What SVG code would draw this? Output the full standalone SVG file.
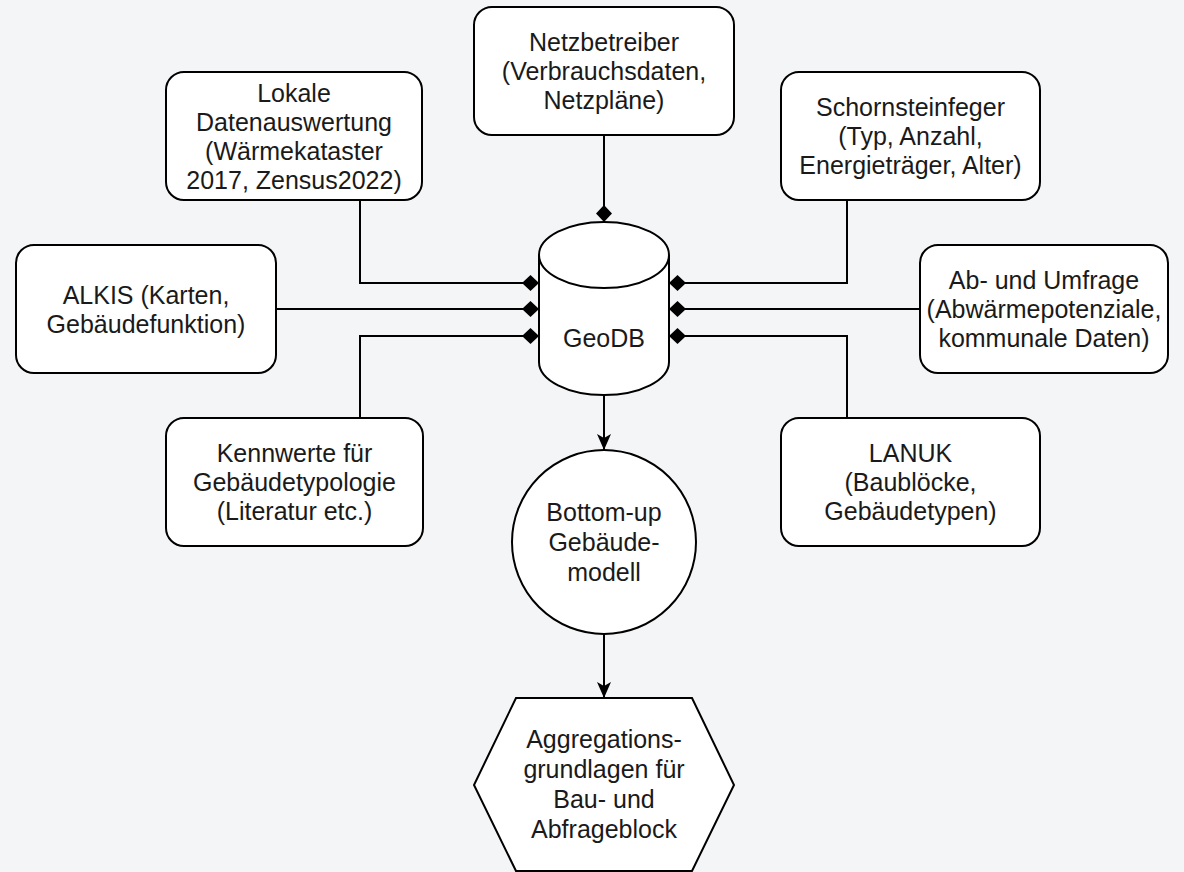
<svg xmlns="http://www.w3.org/2000/svg" width="1184" height="872" viewBox="0 0 1184 872">
<style>
.bg{fill:#f4f5f7}
.box{fill:#ffffff;stroke:#000000;stroke-width:2}
.edge{fill:none;stroke:#000000;stroke-width:2}
.t{font-family:"Liberation Sans",Arial,sans-serif;font-size:25px;fill:#1a1a1a;text-anchor:middle}
</style>
<defs>
<marker id="dia" viewBox="0 0 17 16" refX="17" refY="8" markerWidth="17" markerHeight="16" markerUnits="userSpaceOnUse" orient="auto">
<path d="M0,8 L8.5,0 L17,8 L8.5,16 Z" fill="#000"/>
</marker>
<marker id="arr" viewBox="0 0 16 14" refX="16" refY="7" markerWidth="16" markerHeight="14" markerUnits="userSpaceOnUse" orient="auto">
<path d="M0,0 L16,7 L0,14 L4,7 Z" fill="#000"/>
</marker>
</defs>
<rect class="bg" x="0" y="0" width="1184" height="872"/>
<g id="connectors">
<path class="edge" d="M604,135 L604,222" marker-end="url(#dia)"/>
<path class="edge" d="M360,200 L360,283 L539,283" marker-end="url(#dia)"/>
<path class="edge" d="M276,309 L539,309" marker-end="url(#dia)"/>
<path class="edge" d="M360,418 L360,336 L539,336" marker-end="url(#dia)"/>
<path class="edge" d="M847,200 L847,283 L669,283" marker-end="url(#dia)"/>
<path class="edge" d="M920,309 L669,309" marker-end="url(#dia)"/>
<path class="edge" d="M847,418 L847,336 L669,336" marker-end="url(#dia)"/>
<path class="edge" d="M604,395 L604,450" marker-end="url(#arr)"/>
<path class="edge" d="M604,634 L604,698" marker-end="url(#arr)"/>
</g>
<g id="netzbetreiber">
<rect class="box" x="474" y="7" width="260" height="128" rx="18"/>
<text class="t" x="604" y="51">Netzbetreiber</text>
<text class="t" x="604" y="80">(Verbrauchsdaten,</text>
<text class="t" x="604" y="109">Netzpläne)</text>
</g>
<g id="lokale">
<rect class="box" x="166" y="72" width="256" height="128" rx="18"/>
<text class="t" x="294" y="101.5">Lokale</text>
<text class="t" x="294" y="130.5">Datenauswertung</text>
<text class="t" x="294" y="159.5">(Wärmekataster</text>
<text class="t" x="294" y="188.5">2017, Zensus2022)</text>
</g>
<g id="schornsteinfeger">
<rect class="box" x="781" y="72" width="259" height="128" rx="18"/>
<text class="t" x="910.5" y="116">Schornsteinfeger</text>
<text class="t" x="910.5" y="145">(Typ, Anzahl,</text>
<text class="t" x="910.5" y="174">Energieträger, Alter)</text>
</g>
<g id="alkis">
<rect class="box" x="16" y="245" width="260" height="128" rx="18"/>
<text class="t" x="146" y="303.5">ALKIS (Karten,</text>
<text class="t" x="146" y="332.5">Gebäudefunktion)</text>
</g>
<g id="umfrage">
<rect class="box" x="920" y="245" width="248" height="128" rx="18"/>
<text class="t" x="1044" y="289">Ab- und Umfrage</text>
<text class="t" x="1044" y="318">(Abwärmepotenziale,</text>
<text class="t" x="1044" y="347">kommunale Daten)</text>
</g>
<g id="kennwerte">
<rect class="box" x="166" y="418" width="257" height="128" rx="18"/>
<text class="t" x="294.5" y="462">Kennwerte für</text>
<text class="t" x="294.5" y="491">Gebäudetypologie</text>
<text class="t" x="294.5" y="520">(Literatur etc.)</text>
</g>
<g id="lanuk">
<rect class="box" x="781" y="418" width="259" height="128" rx="18"/>
<text class="t" x="910.5" y="462">LANUK</text>
<text class="t" x="910.5" y="491">(Baublöcke,</text>
<text class="t" x="910.5" y="520">Gebäudetypen)</text>
</g>
<g id="geodb">
<path class="box" d="M539,255 A65,33 0 0,1 669,255 L669,362 A65,33 0 0,1 539,362 Z"/>
<path class="edge" d="M539,255 A65,33 0 0,0 669,255"/>
<text class="t" x="604" y="347">GeoDB</text>
</g>
<g id="gebaeudemodell">
<circle class="box" cx="604" cy="542" r="92"/>
<text class="t" x="604" y="521">Bottom-up</text>
<text class="t" x="604" y="551">Gebäude-</text>
<text class="t" x="604" y="581">modell</text>
</g>
<g id="aggregation">
<polygon class="box" points="516,698 692,698 734,785 692,871 516,871 474,785"/>
<text class="t" x="604" y="748">Aggregations-</text>
<text class="t" x="604" y="778">grundlagen für</text>
<text class="t" x="604" y="808">Bau- und</text>
<text class="t" x="604" y="838">Abfrageblock</text>
</g>
</svg>
